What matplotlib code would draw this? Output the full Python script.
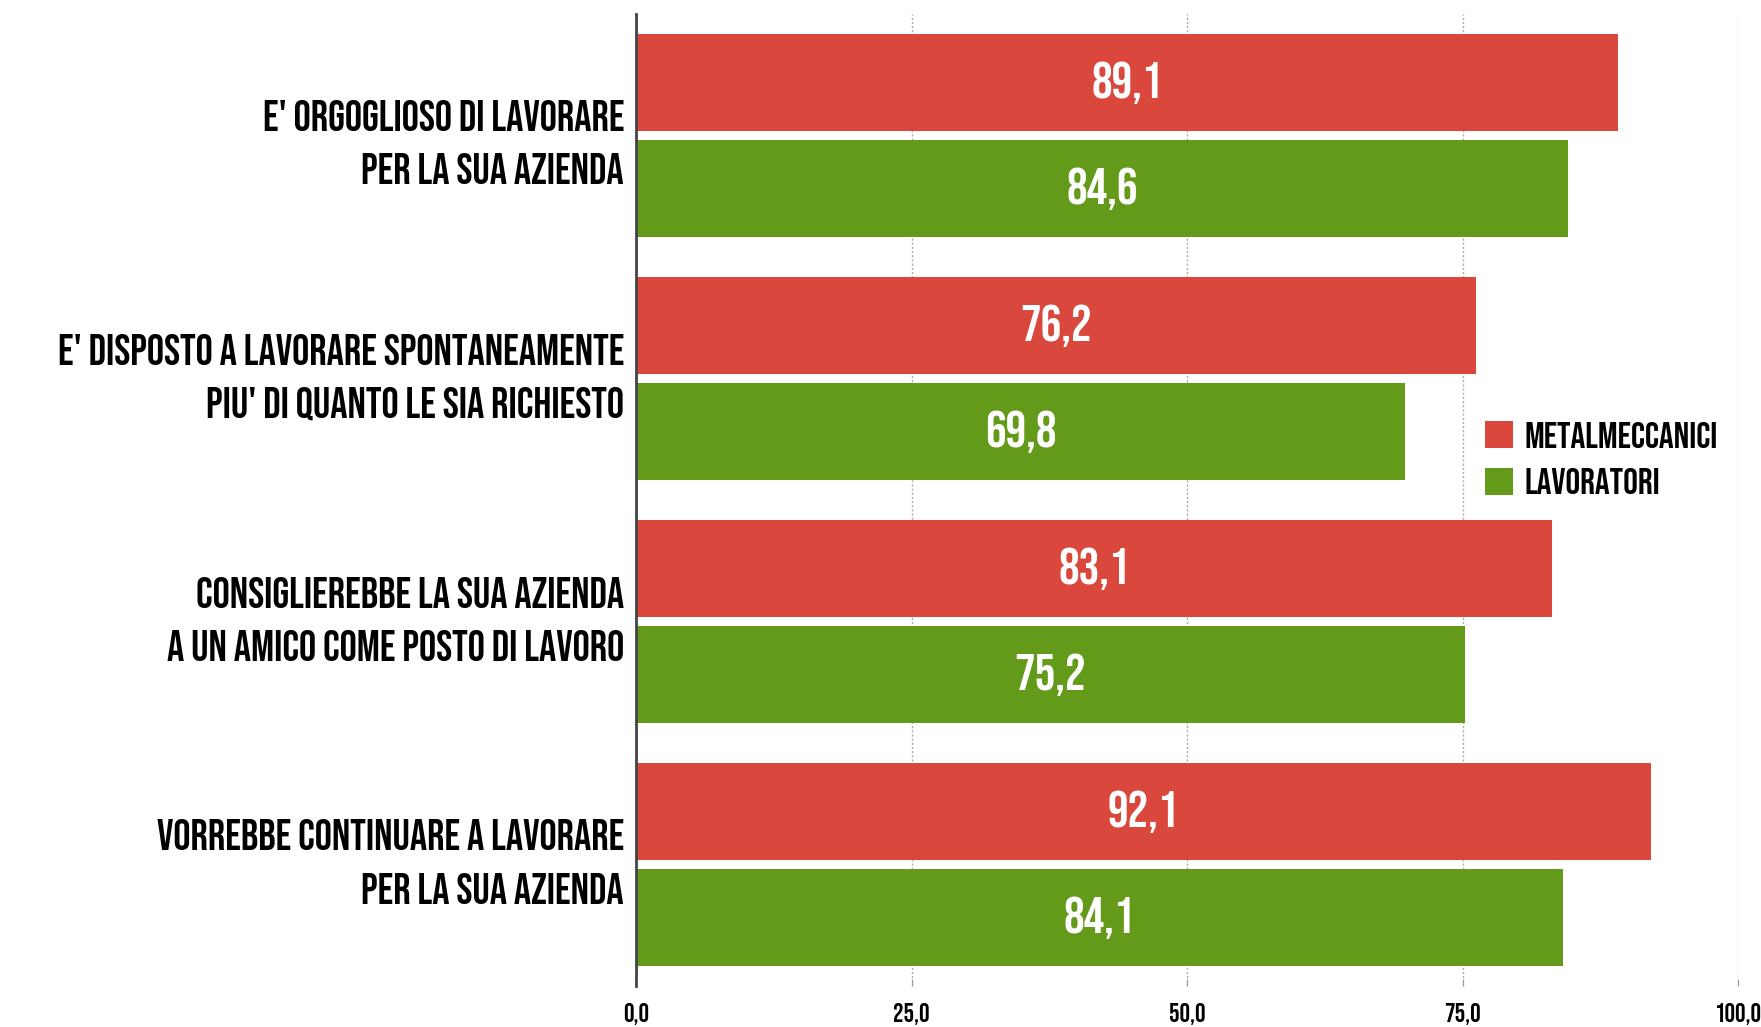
import matplotlib
matplotlib.use("Agg")
import matplotlib.pyplot as plt
from matplotlib.transforms import ScaledTranslation
import numpy as np

# Dati
categorie = [
    "E' ORGOGLIOSO DI LAVORARE\nPER LA SUA AZIENDA",
    "E' DISPOSTO A LAVORARE SPONTANEAMENTE\nPIU' DI QUANTO LE SIA RICHIESTO",
    "CONSIGLIEREBBE LA SUA AZIENDA\nA UN AMICO COME POSTO DI LAVORO",
    "VORREBBE CONTINUARE A LAVORARE\nPER LA SUA AZIENDA",
]
metalmeccanici = [89.1, 76.2, 83.1, 92.1]
lavoratori = [84.6, 69.8, 75.2, 84.1]
serie_nomi = ["METALMECCANICI", "LAVORATORI"]
x_ticks = [0, 25, 50, 75, 100]

ROSSO = "#da473c"
VERDE = "#639a1a"

plt.rcParams["font.family"] = ["Bebas Neue", "DejaVu Sans"]

W, H = 1761, 1027
fig = plt.figure(figsize=(W / 100, H / 100), dpi=100)
ax = fig.add_axes([636 / W, 1 - 986 / H, (1738 - 636) / W, (986 - 14) / H])

y = np.arange(len(categorie))
off = 0.218
h = 0.4

b1 = ax.barh(y - off, metalmeccanici, height=h, color=ROSSO, label=serie_nomi[0], zorder=2)
b2 = ax.barh(y + off, lavoratori, height=h, color=VERDE, label=serie_nomi[1], zorder=2)

# etichette dei valori al centro delle barre
for barre, valori in ((b1, metalmeccanici), (b2, lavoratori)):
    for rett, v in zip(barre, valori):
        ax.text(v / 2, rett.get_y() + rett.get_height() / 2, f"{v:.1f}".replace(".", ","),
                ha="center", va="center", color="white", fontsize=37, zorder=3)

ax.set_xlim(0, 100)
ax.set_ylim(3.5, -0.5)

ax.set_yticks(y)
ax.set_yticklabels(categorie, fontsize=31, linespacing=1.72, ha="right")
ax.tick_params(axis="y", length=0, pad=8.6)
# spostamento verticale (in pixel) delle etichette rispetto al centro del gruppo
spost_px = [5, 14, 14, 14]
for lab, dy in zip(ax.get_yticklabels(), spost_px):
    lab.set_transform(lab.get_transform() + ScaledTranslation(0, dy / 100, fig.dpi_scale_trans))

ax.set_xticks(x_ticks)
ax.set_xticklabels([f"{t:.1f}".replace(".", ",") for t in x_ticks], fontsize=19)
ax.tick_params(axis="x", direction="in", length=5, color="#999999", pad=12)

ax.grid(axis="x", color="#aaaaaa", linestyle=(0, (1.5, 1.5)), linewidth=1, zorder=0)
ax.set_axisbelow(True)

for lato in ("top", "right", "bottom"):
    ax.spines[lato].set_visible(False)
ax.spines["left"].set_color("#444444")
ax.spines["left"].set_linewidth(2)

leg = fig.legend(loc="upper left", bbox_to_anchor=(1485 / W, 1 - 421 / H),
                 frameon=False, fontsize=26.5, handlelength=0.77, handleheight=0.77,
                 handletextpad=0.3, labelspacing=0.52, borderpad=0, borderaxespad=0)

fig.savefig("out.png", dpi=100)
